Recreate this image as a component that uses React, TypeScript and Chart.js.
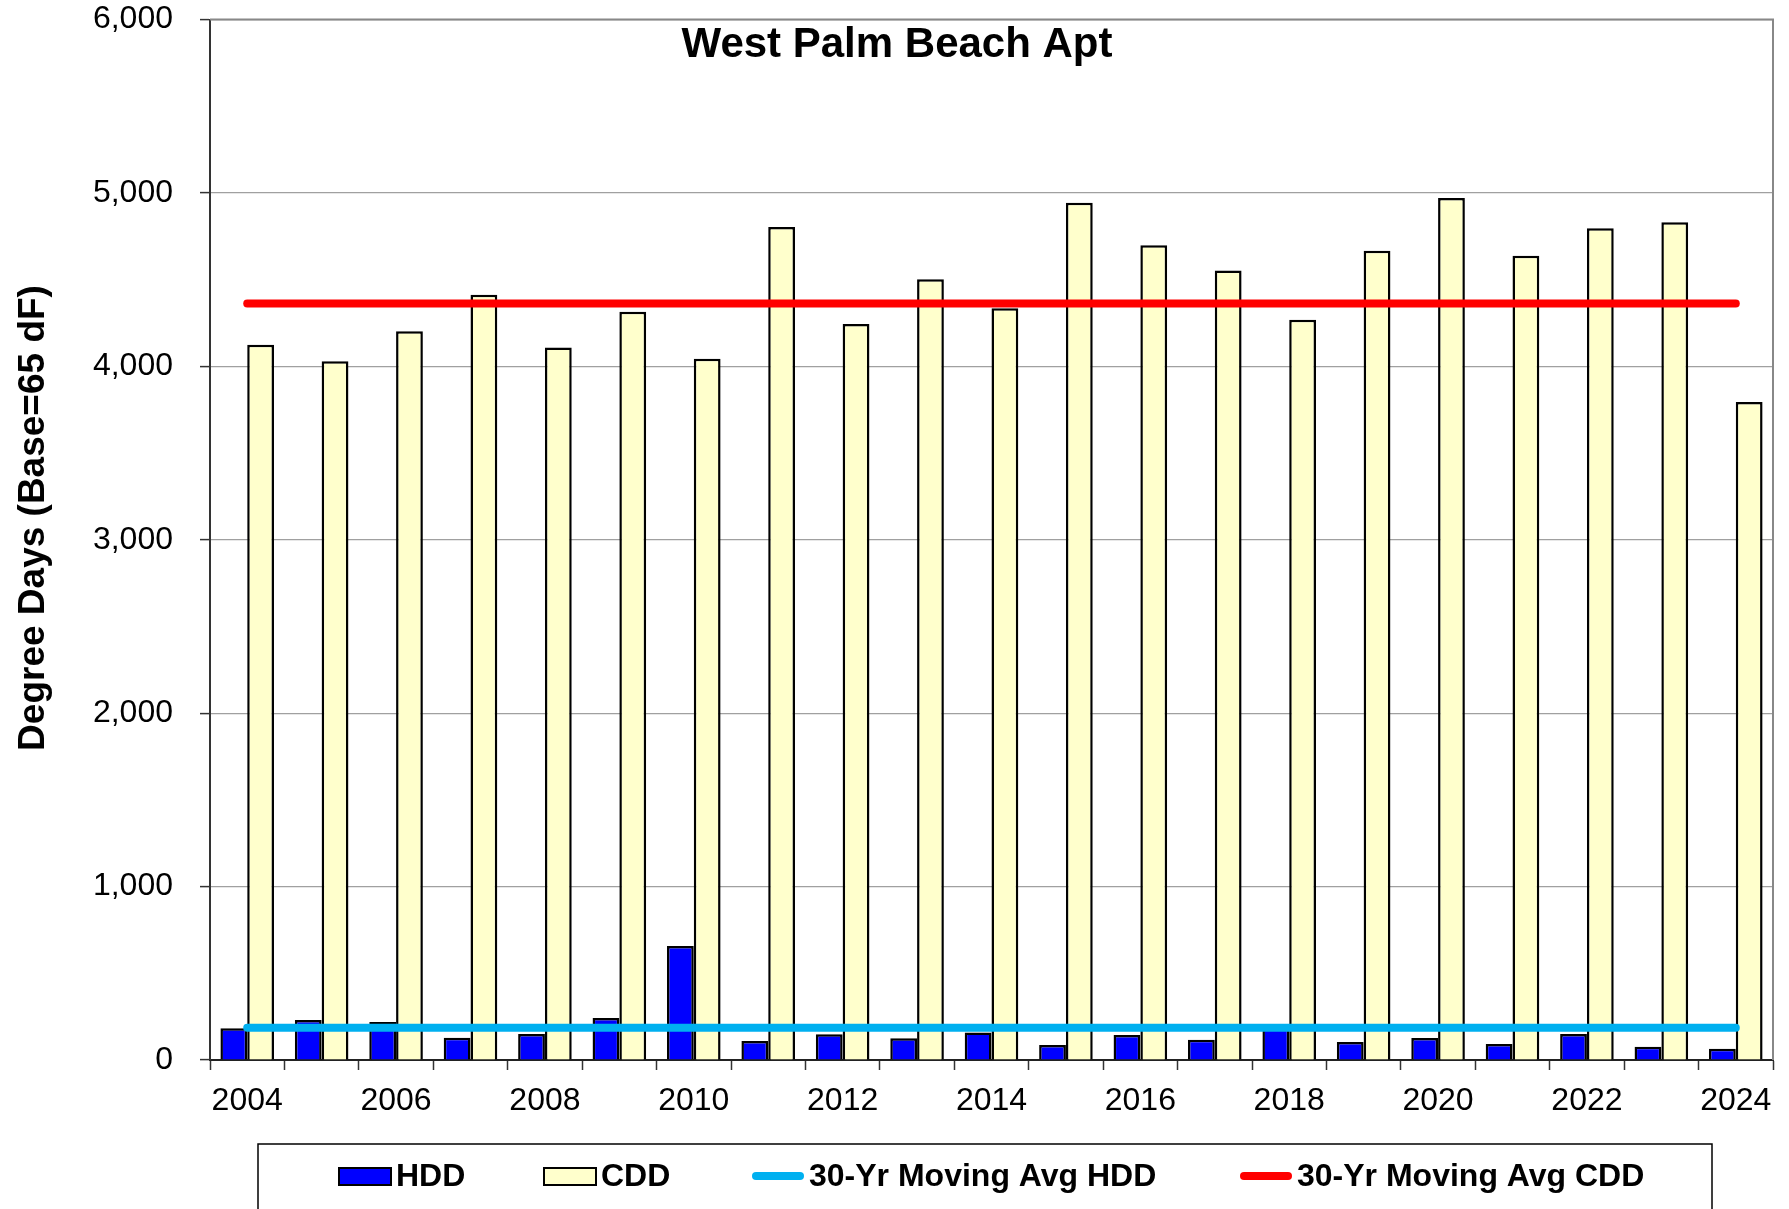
import React, { useEffect, useRef } from "react";
import { Chart, registerables } from "chart.js";

Chart.register(...registerables);

const TITLE = "West Palm Beach Apt";
const Y_TITLE = "Degree Days (Base=65 dF)";

const years = [
  "2004", "2005", "2006", "2007", "2008", "2009", "2010", "2011", "2012", "2013", "2014",
  "2015", "2016", "2017", "2018", "2019", "2020", "2021", "2022", "2023", "2024",
];

const hdd = [183, 231, 219, 129, 150, 242, 658, 110, 148, 126, 158, 87, 144, 117, 208, 104, 127, 92, 150, 77, 65];

const cdd = [4125, 4029, 4202, 4413, 4108, 4315, 4044, 4804, 4244, 4502, 4335, 4944, 4698, 4552, 4269, 4667, 4971, 4638, 4796, 4831, 3794];

const avgHdd = [186, 186, 186, 186, 186, 186, 186, 186, 186, 186, 186, 186, 186, 186, 186, 186, 186, 186, 186, 186, 186];

const avgCdd = [4363, 4363, 4363, 4363, 4363, 4363, 4363, 4363, 4363, 4363, 4363, 4363, 4363, 4363, 4363, 4363, 4363, 4363, 4363, 4363, 4363];

const yTicks = [0, 1000, 2000, 3000, 4000, 5000, 6000];

const FONT = '"Liberation Sans", Arial, sans-serif';

// legend layout (swatch start x for each dataset)
const legendSwatchX = [339, 544, 752, 1240];

const decorPlugin = {
  id: "decor",
  afterDraw(chart: any) {
    const { ctx, chartArea } = chart;
    ctx.save();
    // top and right border of plot area
    ctx.strokeStyle = "#888888";
    ctx.lineWidth = 2;
    ctx.beginPath();
    ctx.moveTo(chartArea.left, chartArea.top);
    ctx.lineTo(chartArea.right, chartArea.top);
    ctx.lineTo(chartArea.right, chartArea.bottom);
    ctx.stroke();

    // chart title inside plot
    ctx.fillStyle = "#000";
    ctx.font = `bold 42px ${FONT}`;
    ctx.textAlign = "center";
    ctx.textBaseline = "middle";
    ctx.fillText(TITLE, 897, 45);

    // y axis title
    ctx.save();
    ctx.translate(34, 518);
    ctx.rotate(-Math.PI / 2);
    ctx.font = `bold 37px ${FONT}`;
    ctx.fillText(Y_TITLE, 0, 0);
    ctx.restore();

    // legend box
    ctx.strokeStyle = "#000";
    ctx.lineWidth = 1.5;
    ctx.strokeRect(258, 1144, 1454, 100);

    const ly = 1176;
    chart.data.datasets.forEach((ds: any, i: number) => {
      const x = legendSwatchX[i];
      if (ds.type === "line") {
        ctx.strokeStyle = ds.borderColor;
        ctx.lineWidth = 8;
        ctx.lineCap = "round";
        ctx.beginPath();
        ctx.moveTo(x + 4, ly);
        ctx.lineTo(x + 48, ly);
        ctx.stroke();
      } else {
        ctx.fillStyle = ds.backgroundColor;
        ctx.fillRect(x, ly - 8, 52, 17);
        ctx.strokeStyle = "#000";
        ctx.lineWidth = 2;
        ctx.strokeRect(x, ly - 8, 52, 17);
      }
      ctx.fillStyle = "#000";
      ctx.font = `bold 32px ${FONT}`;
      ctx.textAlign = "left";
      ctx.textBaseline = "middle";
      ctx.fillText(ds.label, x + 57, ly + 1);
    });
    ctx.restore();
  },
};

export default function App() {
  const ref = useRef<HTMLCanvasElement | null>(null);

  useEffect(() => {
    document.body.style.margin = "0";
    const canvas = ref.current;
    if (!canvas) return;
    const chart = new Chart(canvas, {
      type: "bar",
      data: {
        labels: years,
        datasets: [
          {
            type: "bar",
            label: "HDD",
            data: hdd,
            backgroundColor: "#0000FF",
            borderColor: "#000000",
            borderWidth: 2.5,
            order: 2,
          },
          {
            type: "bar",
            label: "CDD",
            data: cdd,
            backgroundColor: "#FFFFCC",
            borderColor: "#000000",
            borderWidth: 2.5,
            order: 2,
          },
          {
            type: "line",
            label: "30-Yr Moving Avg HDD",
            data: avgHdd,
            borderColor: "#00B0F0",
            backgroundColor: "#00B0F0",
            borderWidth: 8,
            borderCapStyle: "round",
            pointRadius: 0,
            fill: false,
            order: 1,
          },
          {
            type: "line",
            label: "30-Yr Moving Avg CDD",
            data: avgCdd,
            borderColor: "#FF0000",
            backgroundColor: "#FF0000",
            borderWidth: 8,
            borderCapStyle: "round",
            pointRadius: 0,
            fill: false,
            order: 1,
          },
        ] as any,
      },
      options: {
        responsive: false,
        animation: false,
        events: [],
        layout: { padding: { top: 19.5, right: 16, left: 0, bottom: 0 } },
        datasets: {
          bar: { categoryPercentage: 0.72, barPercentage: 1.0 },
        } as any,
        plugins: {
          legend: { display: false },
          tooltip: { enabled: false },
          title: { display: false },
        },
        scales: {
          x: {
            type: "category",
            offset: true,
            grid: {
              display: true,
              offset: true,
              drawOnChartArea: false,
              drawTicks: true,
              tickLength: 10,
              tickColor: "#333333",
              tickWidth: 1.5,
            },
            border: { display: true, color: "#222222", width: 2 },
            ticks: {
              autoSkip: false,
              maxRotation: 0,
              minRotation: 0,
              padding: 12,
              color: "#000",
              font: { family: FONT, size: 32 },
              callback: (_v: any, i: number) => (i % 2 === 0 ? years[i] : ""),
            },
            afterFit: (scale: any) => {
              scale.height = 149;
              scale.paddingLeft = 0;
              scale.paddingRight = 0;
            },
          },
          y: {
            min: 0,
            max: 6000,
            grid: {
              color: "#A0A0A0",
              lineWidth: 1.2,
              drawTicks: true,
              tickLength: 10,
              tickColor: "#333333",
              tickWidth: 1.5,
            },
            border: { display: true, color: "#333333", width: 2 },
            afterBuildTicks: (scale: any) => {
              scale.ticks = yTicks.map((v) => ({ value: v }));
            },
            ticks: {
              padding: 27,
              color: "#000",
              font: { family: FONT, size: 32 },
              callback: (v: any) => Number(v).toLocaleString("en-US"),
            },
            afterFit: (scale: any) => {
              scale.width = 210;
              scale.paddingTop = 0;
              scale.paddingBottom = 0;
            },
          },
        },
      },
      plugins: [decorPlugin],
    });
    return () => chart.destroy();
  }, []);

  return (
    <div style={{ width: 1789, height: 1209, position: "relative", background: "#fff" }}>
      <canvas ref={ref} width={1789} height={1209} />
    </div>
  );
}
